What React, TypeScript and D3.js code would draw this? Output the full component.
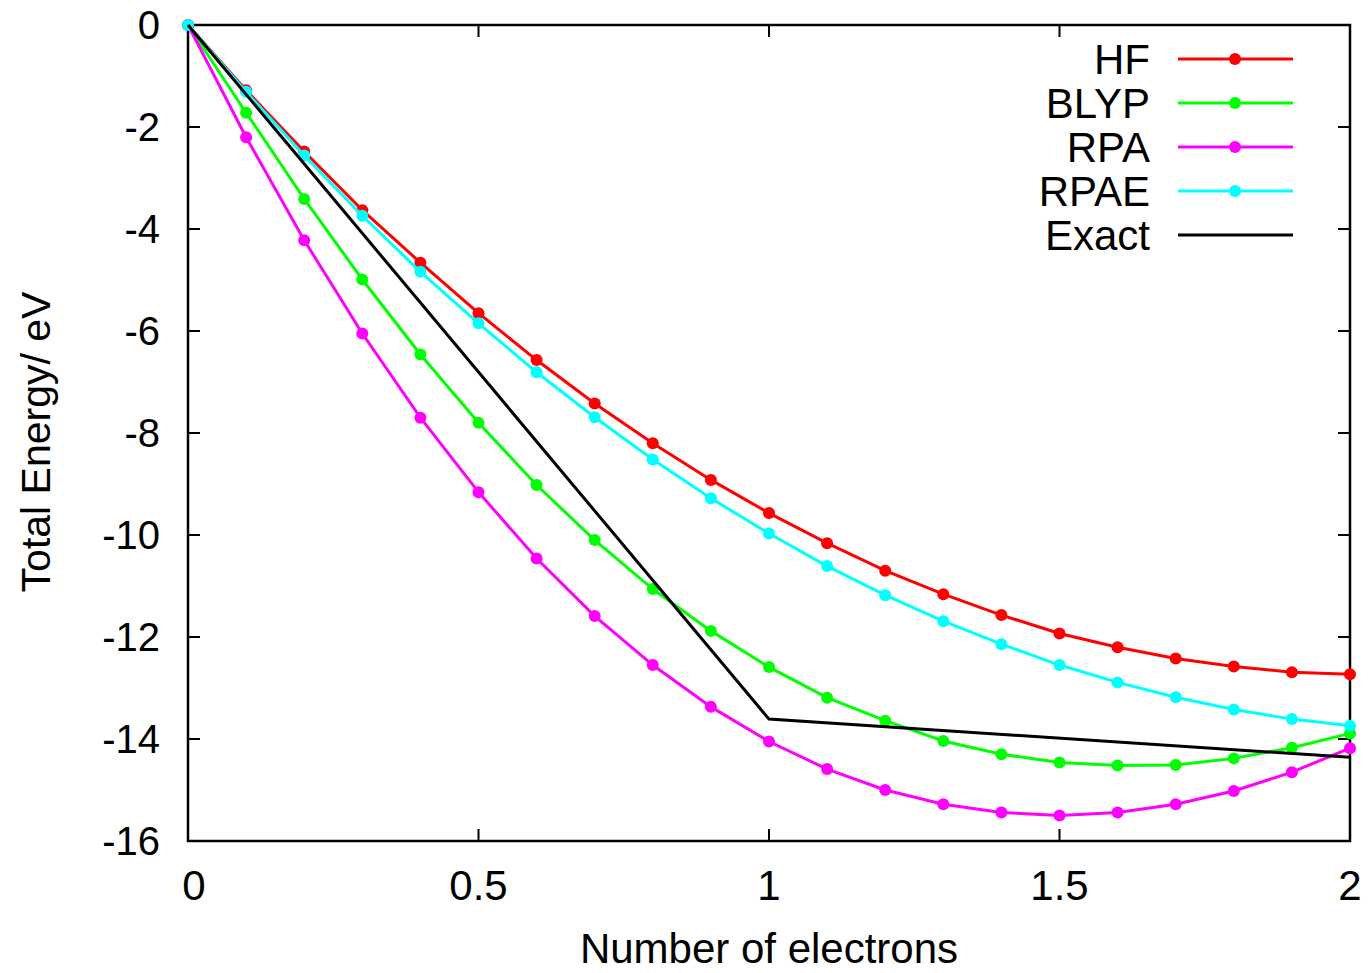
import * as d3 from 'd3';

// x values: number of electrons
const electrons = [0, 0.1, 0.2, 0.3, 0.4, 0.5, 0.6, 0.7, 0.8, 0.9, 1.0, 1.1, 1.2, 1.3, 1.4, 1.5, 1.6, 1.7, 1.8, 1.9, 2.0];

const hf = [0, -1.28, -2.48, -3.63, -4.66, -5.65, -6.57, -7.42, -8.20, -8.92, -9.57, -10.16, -10.70, -11.16, -11.57, -11.93, -12.20, -12.42, -12.58, -12.69, -12.73];
const blyp = [0, -1.72, -3.41, -4.99, -6.46, -7.80, -9.02, -10.10, -11.06, -11.88, -12.59, -13.19, -13.64, -14.04, -14.30, -14.46, -14.52, -14.51, -14.38, -14.17, -13.89];
const rpa = [0, -2.20, -4.22, -6.05, -7.70, -9.16, -10.46, -11.59, -12.55, -13.37, -14.05, -14.59, -15.00, -15.28, -15.44, -15.50, -15.44, -15.28, -15.02, -14.65, -14.18];
const rpae = [0, -1.31, -2.56, -3.74, -4.84, -5.85, -6.81, -7.69, -8.52, -9.28, -9.97, -10.61, -11.18, -11.69, -12.14, -12.55, -12.89, -13.18, -13.42, -13.61, -13.74];

const exactX = [0, 1, 2];
const exactY = [0, -13.61, -14.36];

const xTicks = [0, 0.5, 1, 1.5, 2];
const yTicks = [0, -2, -4, -6, -8, -10, -12, -14, -16];

const series = [
  { name: 'HF', color: '#ff0000', values: hf },
  { name: 'BLYP', color: '#00ff00', values: blyp },
  { name: 'RPA', color: '#ff00ff', values: rpa },
  { name: 'RPAE', color: '#00ffff', values: rpae },
];

const W = 1368;
const H = 973;
const left = 188, right = 1350, top = 25, bottom = 841;
const font = '"Liberation Sans", Arial, Helvetica, sans-serif';

export default function App() {
  const x = d3.scaleLinear().domain([0, 2]).range([left, right]);
  const y = d3.scaleLinear().domain([-16, 0]).range([bottom, top]);

  const line = d3.line<[number, number]>()
    .x(d => x(d[0]))
    .y(d => y(d[1]));

  const tick = 12;

  return (
    <svg width={W} height={H} style={{ position: 'absolute', left: 0, top: 0, background: '#fff' }}>
      {/* ticks */}
      {yTicks.map(t => (
        <g key={'y' + t}>
          <line x1={left} x2={left + tick} y1={y(t)} y2={y(t)} stroke="#000" strokeWidth={2} />
          <line x1={right} x2={right - tick} y1={y(t)} y2={y(t)} stroke="#000" strokeWidth={2} />
          <text x={160} y={y(t)} dy="0.36em" textAnchor="end" fontFamily={font} fontSize={40} fill="#000">{t}</text>
        </g>
      ))}
      {xTicks.map(t => (
        <g key={'x' + t}>
          <line x1={x(t)} x2={x(t)} y1={bottom} y2={bottom - tick} stroke="#000" strokeWidth={2} />
          <line x1={x(t)} x2={x(t)} y1={top} y2={top + tick} stroke="#000" strokeWidth={2} />
          <text x={x(t) + (t === 0 ? 6 : 0)} y={900} textAnchor="middle" fontFamily={font} fontSize={42} fill="#000">{t}</text>
        </g>
      ))}

      {/* frame */}
      <rect x={left} y={top} width={right - left} height={bottom - top} fill="none" stroke="#000" strokeWidth={2.5} />

      {/* series */}
      {series.map(s => {
        const pts = electrons.map((e, i) => [e, s.values[i]] as [number, number]);
        return (
          <g key={s.name}>
            <path d={line(pts) || ''} fill="none" stroke={s.color} strokeWidth={3} />
            {pts.map((p, i) => (
              <circle key={i} cx={x(p[0])} cy={y(p[1])} r={6} fill={s.color} />
            ))}
          </g>
        );
      })}
      <path d={line(exactX.map((e, i) => [e, exactY[i]] as [number, number])) || ''} fill="none" stroke="#000" strokeWidth={3} />

      {/* legend */}
      {[...series, { name: 'Exact', color: '#000', values: [] as number[] }].map((s, i) => {
        const ly = 59 + i * 44;
        return (
          <g key={'leg' + s.name}>
            <text x={1150} y={ly} dy="0.36em" textAnchor="end" fontFamily={font} fontSize={42} fill="#000">{s.name}</text>
            <line x1={1178} x2={1293} y1={ly} y2={ly} stroke={s.color} strokeWidth={3} />
            {s.name !== 'Exact' && <circle cx={1235} cy={ly} r={6} fill={s.color} />}
          </g>
        );
      })}

      {/* axis titles */}
      <text x={(left + right) / 2} y={963} textAnchor="middle" fontFamily={font} fontSize={42} fill="#000">Number of electrons</text>
      <text transform={`translate(50, ${442}) rotate(-90)`} textAnchor="middle" fontFamily={font} fontSize={41} fill="#000">Total Energy/ eV</text>
    </svg>
  );
}
